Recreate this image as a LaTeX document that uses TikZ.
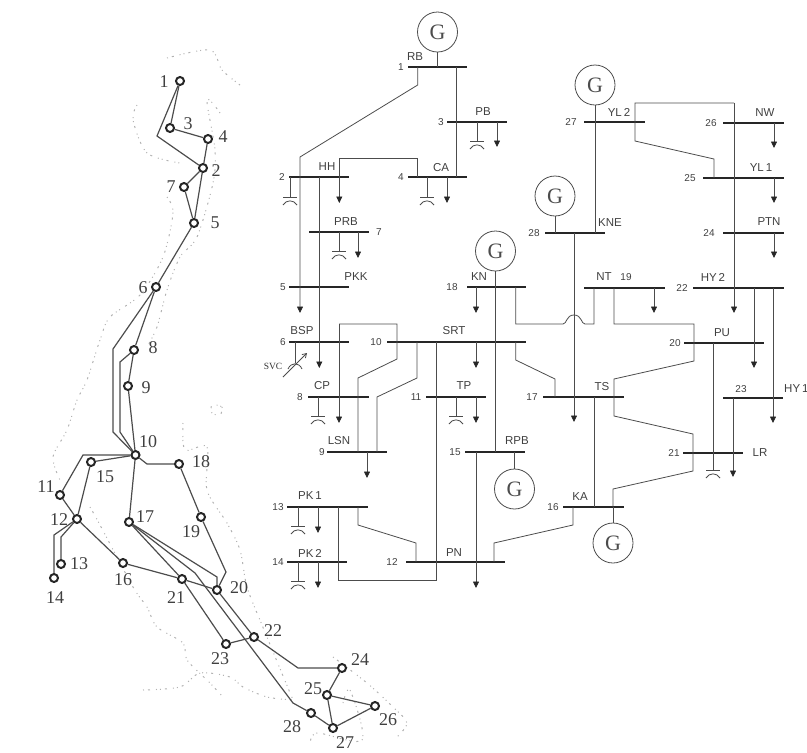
\documentclass[tikz,border=0pt]{standalone}
\usepackage{fontspec}
\setmainfont{Liberation Sans}
\newfontfamily\mapfont{Liberation Serif}
\usetikzlibrary{arrows.meta}

\tikzset{
  wire/.style={draw=black!70, line width=0.8pt},
  loadwire/.style={wire, -{Triangle[length=6.5pt,width=6pt,color=black!85]}},
  busbar/.style={fill=black!85, inner sep=0pt, minimum height=2.1pt},
  busname/.style={font=\fontsize{11.5}{13}\selectfont, text=black!75, inner sep=0pt},
  busnum/.style={font=\fontsize{10}{12}\selectfont, text=black!75, inner sep=0pt},
  gen/.style={circle, draw=black!70, line width=0.8pt, minimum size=40pt, inner sep=0pt, font=\mapfont\fontsize{22}{24}\selectfont, text=black!70},
  station/.style={circle, draw=black!85, fill=white, line width=2pt, minimum size=8pt, inner sep=0pt},
  mapline/.style={draw=black!70, line width=1.2pt},
  maplabel/.style={font=\mapfont\fontsize{18}{20}\selectfont, text=black!75, inner sep=0pt},
  coast/.style={draw=black!30, line width=1pt, dash pattern=on 1pt off 4pt on 2pt off 6pt on 1pt off 3pt},
  capbank/.pic={
    \draw[wire] (-7,0) -- (7,0);
    \draw[wire] (-7,8) .. controls (-4,2.5) and (4,2.5) .. (7,8);
  }
}

\begin{document}
\begin{tikzpicture}[x=1pt, y=-1pt]
  \useasboundingbox (0,0) rectangle (807,753);

  % Coast speckle of the map
  \draw[coast] plot[smooth] coordinates {(167,58) (210,50) (222,70) (240,85)};
  \draw[coast] plot[smooth] coordinates {(220,113) (207,100) (215,150) (213,183) (197,237) (180,257) (167,290) (157,327) (147,347)};
  \draw[coast] plot[smooth] coordinates {(137,105) (133,120) (147,153) (180,163)};
  \draw[coast] plot[smooth] coordinates {(167,197) (173,213) (163,257) (140,295) (110,317) (100,340) (87,380) (77,400) (67,430) (53,457) (60,480)};
  \draw[coast] plot[smooth] coordinates {(183,423) (185,450) (207,447) (207,490) (227,523) (240,550) (247,587) (262,625) (293,700)};
  \draw[coast] plot[smooth] coordinates {(90,507) (100,525) (133,587) (147,607) (157,627) (183,643) (187,660) (210,683) (223,697)};
  \draw[coast] plot[smooth] coordinates {(143,690) (180,687) (200,673) (230,677) (243,687) (267,697) (293,700)};
  \draw[coast] plot[smooth] coordinates {(333,657) (367,683) (393,707) (407,723) (397,737)};
  \draw[coast] plot[smooth] coordinates {(343,703) (350,690) (362,740) (317,733) (310,745)};
  \draw[coast] plot[smooth cycle] coordinates {(212,405) (222,407) (220,415) (212,413)};

  % Stations on the map
  \foreach \name/\px/\py in {s1/180/81, s2/203/168, s3/170/128, s4/208/139, s5/194/223, s6/156/287, s7/184/187,
      s8/134/350, s9/128/386, s10/135.5/455, s11/60/495, s12/77/519, s13/61/564, s14/54/578,
      s15/91/462, s16/123/563, s17/129/522, s18/179/464, s19/201/517, s20/217/590, s21/182/579,
      s22/254/637, s23/226/644, s24/342/668, s25/327/695, s26/375/706, s27/333/728, s28/311/713}
    \node[station] (\name) at (\px,\py) {};

  % Lines on the map
  \foreach \a/\b in {s1/s3, s3/s4, s4/s2, s2/s7, s2/s5, s7/s5, s5/s6, s6/s8, s8/s9, s9/s10, s10/s15, s15/s12,
      s11/s12, s12/s16, s16/s21, s21/s20, s10/s17, s18/s19, s17/s21, s21/s23, s20/s22, s23/s22,
      s24/s25, s25/s26, s25/s27, s26/s27, s27/s28}
    \draw[mapline] (\a) -- (\b);
  \draw[mapline] (s1) -- (157,136) -- (s2);
  \draw[mapline] (s6) -- (113,349) -- (113,432) -- (s10);
  \draw[mapline] (s8) -- (120,362) -- (120,432) -- (s10);
  \draw[mapline] (s10) -- (83,455) -- (s11);
  \draw[mapline] (s10) -- (147,464) -- (s18);
  \draw[mapline] (s12) -- (54,535) -- (s14);
  \draw[mapline] (s12) -- (61,537) -- (s13);
  \draw[mapline] (s19) -- (226,572) -- (s20);
  \draw[mapline] (s17) -- (217,577) -- (s20);
  \draw[mapline] (s17) -- (195,573) -- (293,703) -- (s28);
  \draw[mapline] (s22) -- (298,668) -- (s24);

  % Numbers on the map
  \foreach \px/\py/\txt [count=\i] in {164/82/1, 216/171/2, 188/124/3, 223/137/4, 215/223/5, 143/288/6, 171/187/7,
      153/348/8, 146/388/9, 148/442/10, 46/487/11, 59/520/12, 79/564/13, 55/598/14, 105/477/15, 123/580/16,
      145/517/17, 201/462/18, 191/532/19, 239/588/20, 176/598/21, 273/631/22, 220/659/23, 360/660/24,
      313/689/25, 388/720/26, 345/743/27, 292/727/28}
    \node[maplabel] (num\i) at (\px,\py) {\txt};

  % Bus bars
  \foreach \name/\px/\py/\barw in {b1/437.5/67/59, b2/319/177/60, b3/477/122/60, b4/437.5/177/59, b5/319/287/60,
      b6/319/342/60, b7/339/232/60, b8/338.5/397/61, b9/357/452/60, b10/456.5/342/139, b11/456/397/60,
      b12/455.5/562/99, b13/327.5/507/81, b14/317/562/60, b15/495/452/60, b16/593.5/507/61, b17/583.5/397/81,
      b18/496.5/287/59, b19/624.5/288/81, b20/724/343/80, b21/713/453/60, b22/738.5/288/91, b23/753/398/60,
      b24/753.5/233/61, b25/743.5/178/81, b26/753.5/123/61, b27/614.5/122/61, b28/575/233/60}
    \node[busbar, minimum width=\barw pt] (\name) at (\px,\py) {};

  % Generators
  \foreach \name/\px/\py in {g1/437.5/32, g18/495.5/251, g15/514.5/489, g16/613/543, g27/595/85, g28/555/196}
    \node[gen] (\name) at (\px,\py) {G};
  \draw[wire] (g1) -- (g1 |- b1);
  \draw[wire] (g18) -- (g18 |- b15);
  \draw[wire] (g15) -- (g15 |- b15);
  \draw[wire] (g16) -- (g16 |- b16);
  \draw[wire] (g27) -- (g27 |- b28);
  \draw[wire] (g28) -- (g28 |- b28);

  % Lines between buses
  \draw[wire] (456.7,0 |- b1) -- (456.7,0 |- b4);
  \draw[loadwire] (417.7,0 |- b1) -- (417.7,85) -- (300,157) -- (300,313);
  \draw[wire] (339.3,0 |- b2) -- (339.3,158) -- (417.3,158) -- (417.3,0 |- b4);
  \draw[loadwire] (339,324) -- (339,423);
  \draw[wire] (339,324) -- (397,324) -- (397,359) -- (358,378) -- (358,0 |- b9);
  \draw[wire] (417,0 |- b10) -- (417,378) -- (377,397) -- (377,0 |- b9);
  \draw[wire] (436,0 |- b10) -- (436,580) -- (338,580) -- (338,0 |- b13);
  \draw[wire] (358,0 |- b13) -- (358,525) -- (416,543) -- (416,0 |- b12);
  \draw[wire] (515.7,0 |- b10) -- (515.7,360) -- (555,379) -- (555,0 |- b17);
  \draw[wire] (515.7,0 |- b18) -- (515.7,324) -- (563,324) .. controls (567,324) and (566,315) .. (574,315)
    .. controls (582,315) and (581,324) .. (585,324) -- (594,324) -- (594,0 |- b19);
  \draw[wire] (614,0 |- b19) -- (614,324) -- (694,324) -- (694,361) -- (614,379) -- (614,416) -- (693,434)
    -- (693,471) -- (613,489) -- (613,0 |- b16);
  \draw[wire] (594,0 |- b17) -- (594,0 |- b16);
  \draw[wire] (573,0 |- b16) -- (573,525) -- (494,543) -- (494,0 |- b12);
  \draw[loadwire] (734,103) -- (734,313);
  \draw[wire] (734,103) -- (635,103) -- (635,141) -- (714,159) -- (714,0 |- b25);

  % Loads
  \foreach \bus/\px/\len in {b3/497/25, b2/339.3/26, b4/447/26, b7/358/26, b18/476/26, b19/654/25, b26/774/25,
      b25/774/25, b24/774/25, b10/476/26, b9/367/26, b11/476/26, b13/318/26, b14/318/26, b2/319.3/191,
      b28/574/189, b15/476/136, b22/754/80, b22/773/135, b23/733/79}
    \draw[loadwire] (\px,0 |- \bus) -- ++(0,\len);

  % Capacitor banks
  \foreach \bus/\px/\len in {b3/477/19, b2/290/20, b4/427/20, b7/339/19, b8/318/19, b11/456/19, b13/298/19,
      b14/298/19, b20/713/127}
    \draw[wire] (\px,0 |- \bus) -- ++(0,\len) pic {capbank};

  % SVC at bus 6
  \coordinate (svclow) at (283,377);
  \coordinate (svcup) at (307,353);
  \draw[wire] (295,0 |- b6) -- (295,363);
  \draw[wire] (288,369) .. controls (291,362) and (299,362) .. (302,369);
  \draw[wire, -{Straight Barb[length=4pt,width=5pt]}] (svclow) -- (svcup);
  \node[font=\mapfont\fontsize{9.5}{11}\selectfont, text=black!80, inner sep=0pt] (svctext) at (273,366) {SVC};

  % Bus names
  \foreach \px/\py/\txt [count=\i] in {415/57/RB, 483/112/PB, 327/167/HH, 441/168/CA, 346/222/PRB, 356/277/PKK,
      479/277/KN, 302/331/BSP, 454/331/SRT, 322/386/CP, 464/386/TP, 339/441/LSN, 517/441/RPB, 310/496/PK\,1,
      310/553/PK\,2, 454/553/PN, 580/497/KA, 602/387/TS, 604/277/NT, 713/277/HY\,2, 722/333/PU, 760/453/LR,
      619/112/YL\,2, 765/113/NW, 761/168/YL\,1, 769/222/PTN, 610/223/KNE}
    \node[busname] (name\i) at (\px,\py) {\txt};
  \node[busname, anchor=west] (namehy) at (784,389) {HY\,1};

  % Bus numbers
  \foreach \px/\py/\txt [count=\i] in {401/67/1, 282/177/2, 441/122/3, 401/177/4, 283/287/5, 283/342/6, 379/232/7,
      300/397/8, 322/452/9, 376/342/10, 416/397/11, 392/562/12, 278/507/13, 278/562/14, 455/452/15, 553/507/16,
      532/397/17, 452/287/18, 626/277/19, 675/343/20, 674/453/21, 682/288/22, 741/389/23, 709/233/24, 690/178/25,
      711/123/26, 571/122/27, 534/233/28}
    \node[busnum] (busno\i) at (\px,\py) {\txt};
\end{tikzpicture}
\end{document}
